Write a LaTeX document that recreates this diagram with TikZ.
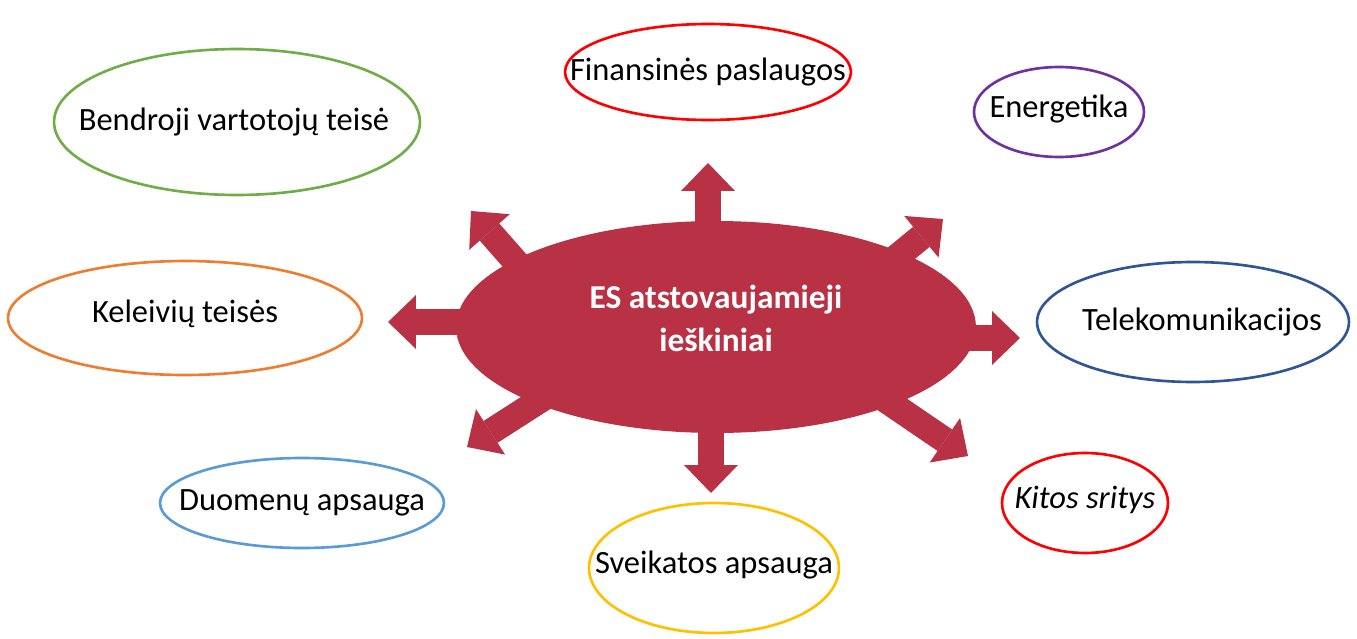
\documentclass[tikz,border=0pt]{standalone}
\usepackage{fontspec}
\setmainfont{Carlito}
\usetikzlibrary{shapes.geometric}
\usetikzlibrary{arrows.meta}
\usetikzlibrary{backgrounds}
\definecolor{esred}{RGB}{185,49,68}
\definecolor{fingreen}{RGB}{112,173,71}
\definecolor{enpurple}{RGB}{112,48,160}
\definecolor{kelorange}{RGB}{237,125,49}
\definecolor{telblue}{RGB}{47,85,151}
\definecolor{duoblue}{RGB}{91,155,213}
\definecolor{svegold}{RGB}{255,192,0}
\definecolor{kitred}{RGB}{255,0,0}
\tikzset{
    every label/.append style={
        font=\fontsize{18.5}{24}\selectfont
    },
    area/.style={
        ellipse,
        draw,
        line width=1.5pt,
        inner sep=0pt,
        fill=white
    },
    hub/.style={
        ellipse,
        fill=esred,
        inner sep=0pt
    },
    hubtext/.style={
        text=white,
        align=center,
        yshift=0.18cm,
        font=\bfseries\fontsize{19}{24.5}\selectfont
    },
    push/.style={
        draw=esred,
        line width=0.52cm,
        -{Triangle[width=1.08cm,length=0.56cm,line width=0pt]}
    }
}

\begin{document}
\begin{tikzpicture}[x=0.02cm, y=-0.02cm]
    \useasboundingbox (0,0) rectangle (1357,639);

    \node[hub, minimum width=10.4cm, minimum height=4.24cm,
        label={[hubtext]center:ES atstovaujamieji\\ieškiniai}] (es) at (716,327) {};

    \node[area, draw=kitred, minimum width=5.72cm, minimum height=1.92cm,
        label={center:Finansinės paslaugos}] (fin) at (708,72) {};
    \node[area, draw=enpurple, minimum width=3.4cm, minimum height=1.8cm,
        label={[yshift=0.06cm]center:Energetika}] (ene) at (1059,112) {};
    \node[area, draw=fingreen, minimum width=7.32cm, minimum height=2.92cm,
        label={[xshift=-0.06cm]center:Bendroji vartotojų teisė}] (ben) at (237,122) {};
    \node[area, draw=kelorange, minimum width=7.08cm, minimum height=2.28cm,
        label={[yshift=0.08cm]center:Keleivių teisės}] (kel) at (185,318) {};
    \node[area, draw=telblue, minimum width=6.24cm, minimum height=2.4cm,
        label={[xshift=0.18cm]center:Telekomunikacijos}] (tel) at (1193,322) {};
    \node[area, draw=duoblue, minimum width=5.68cm, minimum height=1.8cm,
        label={center:Duomenų apsauga}] (duo) at (302,503) {};
    \node[area, draw=svegold, minimum width=5cm, minimum height=2.6cm,
        label={[yshift=0.06cm]center:Sveikatos apsauga}] (sve) at (714,568) {};
    \node[area, draw=kitred, minimum width=3.32cm, minimum height=2cm,
        label={[yshift=0.06cm,font=\itshape\fontsize{18.5}{24}\selectfont]center:Kitos sritys}] (kit) at (1085,503) {};

    % arrow ends
    \coordinate (up-s) at (708,300);   \coordinate (up-t) at (708,163);
    \coordinate (dn-s) at (711,350);   \coordinate (dn-t) at (711,493);
    \coordinate (lt-s) at (480,322);   \coordinate (lt-t) at (388,322);
    \coordinate (rt-s) at (940,338);   \coordinate (rt-t) at (1020,338);
    \coordinate (ul-s) at (537,286);   \coordinate (ul-t) at (471,211);
    \coordinate (ur-s) at (858,289);   \coordinate (ur-t) at (943,219);
    \coordinate (ll-s) at (559,388);   \coordinate (ll-t) at (467,447);
    \coordinate (lr-s) at (877,394);   \coordinate (lr-t) at (968,456);

    \begin{scope}[on background layer]
        \foreach \a in {up,dn,lt,rt,ul,ur,ll,lr}
            \draw[push] (\a-s) -- (\a-t);
    \end{scope}
\end{tikzpicture}
\end{document}
